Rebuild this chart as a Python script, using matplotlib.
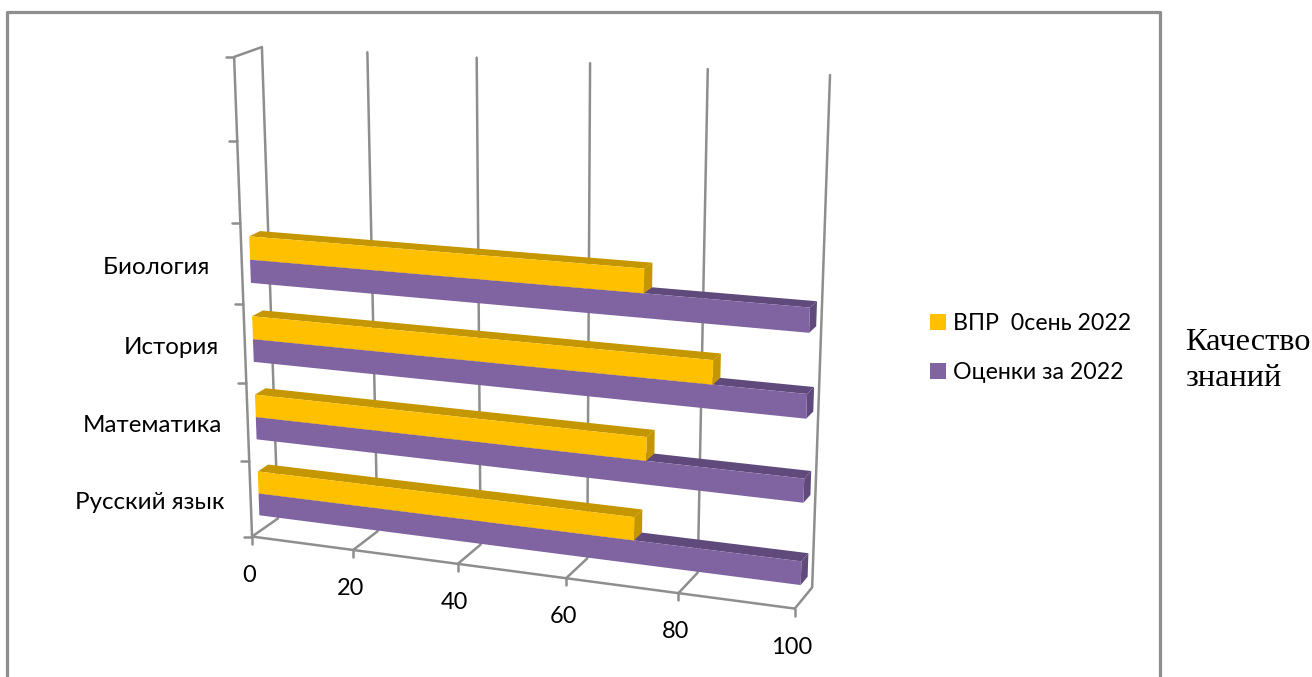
import numpy as np
import matplotlib
matplotlib.use("Agg")
import matplotlib.pyplot as plt
from matplotlib.patches import Polygon, Patch

categories = ["Русский язык", "Математика", "История", "Биология "]
vpr_2022 = [71, 73, 84.2, 72.2]
grades_2022 = [100, 100, 100, 100]
series_names = ["ВПР  0сень 2022", "Оценки за 2022"]
x_ticks = [0, 20, 40, 60, 80, 100]
y_ticks = [0, 1, 2, 3, 4, 5, 6]

YELLOW = "#FFC000"
YELLOW_DARK = "#C49600"
PURPLE = "#8064A2"
PURPLE_DARK = "#604A7B"
GREY = "#8E8E8E"
plt.rcParams["font.family"] = ["Lato", "Open Sans", "DejaVu Sans"]

# corners of the 3d box on the picture, used to fit the perspective
world = np.array([[0, 0, 0], [100, 0, 0], [0, 6, 0], [0, 0, 1],
                  [100, 0, 1], [0, 6, 1], [100, 6, 1]], float)
screen = np.array([[252, 537], [795, 608], [234, 57], [278, 518],
                   [812, 588], [262, 47], [830, 75]], float)
rows = []
for (a, b, c), (u, v) in zip(world, screen):
    p = [a / 100, b / 6, c, 1]
    rows.append(p + [0, 0, 0, 0] + [-u * k for k in p])
    rows.append([0, 0, 0, 0] + p + [-v * k for k in p])
camera = np.linalg.svd(np.array(rows))[2][-1].reshape(3, 4)


def proj(x, y, z):
    u, v, w = camera @ np.array([x / 100, y / 6, z, 1])
    return u / w, v / w


def box(ax, x1, y0, y1, z0, z1, front, dark):
    top = [proj(0, y1, z0), proj(x1, y1, z0), proj(x1, y1, z1), proj(0, y1, z1)]
    side = [proj(x1, y0, z0), proj(x1, y0, z1), proj(x1, y1, z1), proj(x1, y1, z0)]
    face = [proj(0, y0, z0), proj(x1, y0, z0), proj(x1, y1, z0), proj(0, y1, z0)]
    ax.add_patch(Polygon(top, fc=dark, ec="none", zorder=3))
    ax.add_patch(Polygon(side, fc=dark, ec="none", zorder=3))
    ax.add_patch(Polygon(face, fc=front, ec="none", zorder=3))


fig = plt.figure(figsize=(13.12, 6.77), dpi=100)
ax = fig.add_axes([0, 0, 1, 1])
ax.set_xlim(0, 1312)
ax.set_ylim(677, 0)
ax.set_axis_off()

# outer frame, open at the bottom
ax.plot([7, 7, 1160, 1160], [677, 12, 12, 677], color=GREY, lw=2.3)


def line(pts, lw=1.8):
    ax.plot([p[0] for p in pts], [p[1] for p in pts], color=GREY, lw=lw, zorder=2,
            solid_capstyle="round")


for t in x_ticks:
    line([proj(t, 6, 1), proj(t, 0, 1), proj(t, 0, 0)])
    fx, fy = proj(t, 0, 0)
    line([(fx, fy), (fx, fy + 7)])
    ax.text(fx - 3, fy + 38.5, str(t), ha="center", va="center", fontsize=17)
line([proj(0, 0, 0), proj(100, 0, 0)])
line([proj(0, 0, 0), proj(0, 6, 0), proj(0, 6, 1)])
for t in y_ticks:
    fx, fy = proj(0, t, 0)
    line([(fx, fy), (fx - 8, fy)])

# bars, upper categories first
bar_h = 0.29
for i in range(len(categories) - 1, -1, -1):
    mid = i + 0.5
    box(ax, grades_2022[i], mid - bar_h, mid, 0.30, 0.70, PURPLE, PURPLE_DARK)
    box(ax, vpr_2022[i], mid, mid + bar_h, 0.30, 0.70, YELLOW, YELLOW_DARK)
    lx, ly = proj(0, i + 0.5, 0)
    ax.text(lx - 26, ly + 3.5, categories[i], ha="right", va="center", fontsize=17.4)

handles = [Patch(fc=YELLOW, ec="none"), Patch(fc=PURPLE, ec="none")]
ax.legend(handles, series_names, loc="center left", bbox_to_anchor=(909 / 1312, 1 - 348 / 677),
          frameon=False, fontsize=16.7, handlelength=0.68, handleheight=0.68,
          handletextpad=0.32, labelspacing=1.2)

ax.text(1185, 342, "Качество", family="Liberation Serif", fontsize=23.3, ha="left", va="center")
ax.text(1185, 379, "знаний", family="Liberation Serif", fontsize=23.3, ha="left", va="center")

fig.savefig("out.png", dpi=100)
